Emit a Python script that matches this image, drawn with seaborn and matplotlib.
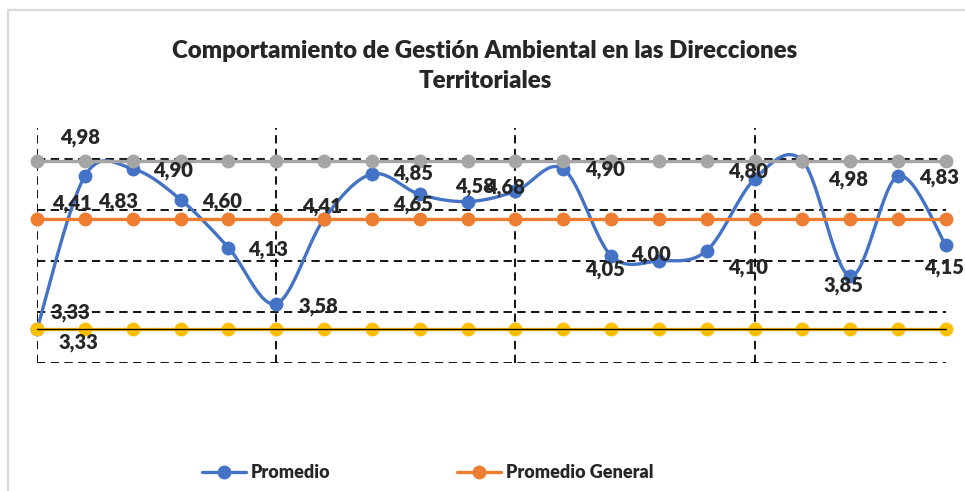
import numpy as np
import pandas as pd
import matplotlib
matplotlib.use("Agg")
import matplotlib.pyplot as plt
from matplotlib.lines import Line2D
import seaborn as sns

# data
puntos = list(range(20))
promedio = [3.33, 4.83, 4.90, 4.60, 4.13, 3.58, 4.41, 4.85, 4.65, 4.58,
            4.68, 4.90, 4.05, 4.00, 4.10, 4.80, 4.98, 3.85, 4.83, 4.15]
promedio_general = [4.41] * 20
maximo = [4.98] * 20
minimo = [3.33] * 20
titulo = "Comportamiento de Gestión Ambiental en las Direcciones\nTerritoriales"

# label offsets in pixels (dx, dy with y pointing down), one per point of "Promedio"
offsets = [(41, 13), (33, 25), (40, 2), (41, 2), (40, 2), (42, 3), (-2, -12), (41, 0),
           (-7, 10), (7, -15), (-10, -4), (42, 1), (-6, 14), (-8, -6), (41, 17),
           (-7, -8), (46, 19), (-7, 9), (41, 1), (-2, 22)]

AZUL, NARANJA, GRIS, AMARILLO = "#4472C4", "#ED7D31", "#A5A5A5", "#FFC000"
PESO = "heavy"

sns.set_style("white")
plt.rcParams["font.family"] = ["Lato", "DejaVu Sans"]


def suavizar(x, y, n=30):
    # Excel-like smoothed line (Catmull-Rom through the points)
    x = np.asarray(x, float)
    y = np.asarray(y, float)
    px = np.concatenate([[x[0]], x, [x[-1]]])
    py = np.concatenate([[y[0]], y, [y[-1]]])
    xs, ys = [], []
    t = np.linspace(0, 1, n)
    for i in range(1, len(px) - 2):
        p0, p1, p2, p3 = (np.array([px[j], py[j]]) for j in (i - 1, i, i + 1, i + 2))
        c1 = p1 + (p2 - p0) / 6
        c2 = p2 - (p3 - p1) / 6
        b = ((1 - t) ** 3)[:, None] * p1 + (3 * (1 - t) ** 2 * t)[:, None] * c1 \
            + (3 * (1 - t) * t ** 2)[:, None] * c2 + (t ** 3)[:, None] * p2
        xs.extend(b[:, 0])
        ys.extend(b[:, 1])
    return np.array(xs), np.array(ys)


fig = plt.figure(figsize=(9.65, 4.91), dpi=100)
ax = fig.add_axes([37 / 965, 128 / 491, 909 / 965, 235 / 491])

sx, sy = suavizar(puntos, promedio)
sns.lineplot(x=sx, y=sy, color=AZUL, linewidth=2.4, ax=ax, sort=False,
             clip_on=False, zorder=3)
ax.plot(puntos, promedio, "o", color=AZUL, markersize=10, markeredgewidth=0,
        clip_on=False, zorder=3)

for serie, color, z in [(promedio_general, NARANJA, 4), (maximo, GRIS, 5), (minimo, AMARILLO, 6)]:
    sns.lineplot(x=puntos, y=serie, color=color, linewidth=2.4, marker="o",
                 markersize=10, markeredgewidth=0, ax=ax, clip_on=False, zorder=z)
ax.plot(puntos, minimo, color="black", linewidth=1, clip_on=False, zorder=7)

ax.set_xlim(0, 19)
ax.set_ylim(3.0, 5.3)
ax.set_xticks([0, 5, 10, 15])
ax.set_yticks([3.0, 3.5, 4.0, 4.5, 5.0])
ax.grid(True, color="black", linestyle=(0, (4.6, 3.0)), linewidth=1.3)
ax.set_axisbelow(True)
ax.tick_params(left=False, bottom=False, labelleft=False, labelbottom=False)
for s in ax.spines.values():
    s.set_visible(False)
ax.set_xlabel("")
ax.set_ylabel("")

fmt = lambda v: f"{v:.2f}".replace(".", ",")
etiqueta = dict(textcoords="offset pixels", ha="center", va="center", fontsize=14.5,
                fontweight=PESO, zorder=8)
for xi, yi, (dx, dy) in zip(puntos, promedio, offsets):
    ax.annotate(fmt(yi), (xi, yi), xytext=(dx, -dy), **etiqueta)
ax.annotate(fmt(maximo[1]), (puntos[1], maximo[1]), xytext=(-5, 23), **etiqueta)
ax.annotate(fmt(promedio_general[0]), (puntos[0], promedio_general[0]), xytext=(35, 15), **etiqueta)
ax.annotate(fmt(minimo[0]), (puntos[0], minimo[0]), xytext=(33, 17), **etiqueta)

fig.text(0.5025, 1 - 66 / 491, titulo, ha="center", va="center", fontsize=17.3,
         fontweight=PESO, linespacing=1.5)

handles = [Line2D([], [], color=AZUL, linewidth=2.4, marker="o", markersize=10, markeredgewidth=0),
           Line2D([], [], color=NARANJA, linewidth=2.4, marker="o", markersize=10, markeredgewidth=0)]
fig.legend(handles, ["Promedio", "Promedio General"], loc="center",
           bbox_to_anchor=(428 / 965, 1 - 473 / 491), ncol=2, frameon=False,
           prop={"size": 13, "weight": PESO}, handlelength=2.4, handletextpad=0.3,
           columnspacing=7.0)

# chart border (only top and left visible in the crop)
fig.add_artist(Line2D([8 / 965, 1], [1 - 10 / 491, 1 - 10 / 491], color="#D9D9D9",
                      linewidth=1.6, transform=fig.transFigure))
fig.add_artist(Line2D([8 / 965, 8 / 965], [0, 1 - 10 / 491], color="#D9D9D9",
                      linewidth=1.6, transform=fig.transFigure))

fig.savefig("out.png", dpi=100, facecolor="white")
